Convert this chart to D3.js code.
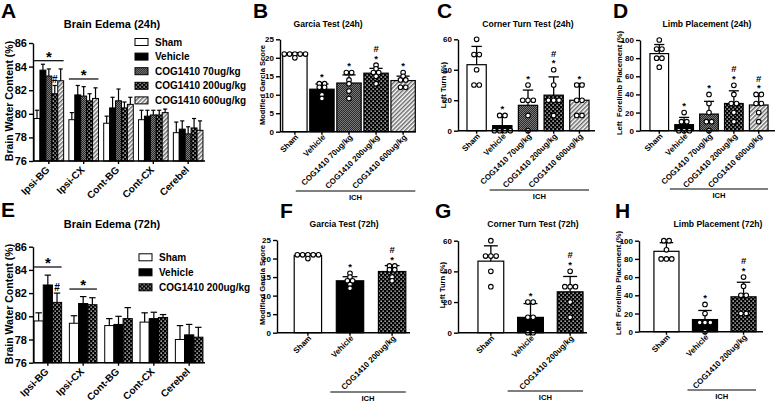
<!DOCTYPE html>
<html>
<head>
<meta charset="utf-8">
<script src="https://cdn.jsdelivr.net/npm/d3@7"></script>
<style>
  body { margin: 0; background: #fff; }
  svg { display: block; background: #fff; }
</style>
</head>
<body>
<svg width="778" height="402"></svg>
<script>
/*global d3*/

// brain regions and treatment groups
let regions = ['Ipsi-BG', 'Ipsi-CX', 'Cont-BG', 'Cont-CX', 'Cerebel'];
let groups24 = ['Sham', 'Vehicle', 'COG1410 70ug/kg', 'COG1410 200ug/kg', 'COG1410 600ug/kg'];
let groups72 = ['Sham', 'Vehicle', 'COG1410 200ug/kg'];

// A: brain water content (%) at 24h, one row per region
let edema24 = [
    [79.6, 83.7, 83.2, 81.7, 82.8],
    [79.5, 81.6, 81.5, 81.1, 81.3],
    [79.2, 80.5, 81.1, 80.5, 80.8],
    [79.5, 79.8, 79.9, 79.9, 80.1],
    [78.4, 78.7, 78.3, 78.8, 78.6]
];
let edema24Sd = [
    [0.7, 0.5, 0.6, 0.7, 1.0],
    [0.6, 0.8, 0.8, 0.6, 0.9],
    [0.6, 0.9, 1.0, 0.5, 0.6],
    [0.8, 0.5, 0.4, 0.4, 0.3],
    [0.9, 0.7, 0.6, 0.8, 0.8]
];
// significance bars (level in %) and # marks
let edema24Star = [['Ipsi-BG', 84.5], ['Ipsi-CX', 82.95]];
let edema24Hash = [['Ipsi-BG', 'COG1410 200ug/kg']];

// E: brain water content (%) at 72h
let edema72 = [
    [79.6, 82.7, 81.2],
    [79.4, 81.1, 81.0],
    [79.2, 79.3, 79.8],
    [79.5, 79.8, 79.9],
    [78.0, 78.4, 78.2]
];
let edema72Sd = [
    [0.7, 0.85, 0.8],
    [0.65, 0.6, 0.6],
    [0.6, 0.7, 0.95],
    [0.8, 0.55, 0.25],
    [1.2, 0.9, 0.85]
];
let edema72Star = [['Ipsi-BG', 84.25], ['Ipsi-CX', 82.35]];
let edema72Hash = [['Ipsi-BG', 'COG1410 200ug/kg']];

// B: Garcia score 24h, individual animals
let garcia24 = [
    [21, 21, 21, 21, 20, 21],
    [13, 13, 12, 12, 10, 9],
    [16, 16, 14, 13, 11, 9],
    [18, 17, 16, 16, 15, 13],
    [16, 15, 14, 14, 12, 12]
];
let garcia24Sd = [0.5, 1.4, 2.2, 1.3, 1.2];
let garcia24Marks = ['', '*', '*', '*#', '*'];

// C: corner turn 24h (% left turns)
let corner24 = [
    [60, 50, 50, 40, 30, 30],
    [10, 10, 0, 0, 0, 0],
    [30, 20, 20, 20, 10, 0],
    [40, 30, 20, 20, 20, 10],
    [30, 30, 20, 20, 10, 10]
];
let corner24Sd = [12, 7, 10, 12, 11];
let corner24Marks = ['', '*', '*', '*#', '*'];

// D: limb placement 24h (%)
let limb24 = [
    [100, 90, 90, 80, 80, 70],
    [20, 10, 10, 0, 0, 0],
    [40, 30, 20, 10, 10, 0],
    [50, 40, 30, 30, 20, 10],
    [40, 40, 30, 30, 20, 10]
];
let limb24Sd = [10, 8, 14, 14, 12];
let limb24Marks = ['', '*', '*', '*#', '*#'];

// F: Garcia score 72h
let garcia72 = [
    [21, 21, 21, 21, 21, 20],
    [16, 15, 14, 14, 13, 12],
    [18, 18, 17, 17, 15, 14]
];
let garcia72Sd = [0.4, 1.1, 1.6];
let garcia72Marks = ['', '*', '*#'];

// G: corner turn 72h
let corner72 = [
    [60, 50, 50, 50, 40, 30],
    [20, 20, 10, 10, 0, 0],
    [40, 30, 30, 30, 20, 10]
];
let corner72Sd = [10, 9, 10];
let corner72Marks = ['', '*', '*#'];

// H: limb placement 72h
let limb72 = [
    [100, 100, 90, 80, 80, 80],
    [30, 20, 10, 10, 10, 0],
    [60, 50, 40, 40, 20, 20]
];
let limb72Sd = [9.5, 10, 16];
let limb72Marks = ['', '*', '*#'];

let font = '"Liberation Sans", Arial, Helvetica, sans-serif';
let svg = d3.select('svg')
    .attr('font-family', font)
    .attr('font-weight', 'bold');

// fill patterns for the treatment groups
let defs = svg.append('defs');

let p70 = defs.append('pattern').attr('id', 'p70')
    .attr('width', 2).attr('height', 2).attr('patternUnits', 'userSpaceOnUse');
p70.append('rect').attr('width', 2).attr('height', 2).attr('fill', '#2a2a2a');
p70.append('rect').attr('width', 1).attr('height', 1).attr('fill', '#7a7a7a');
p70.append('rect').attr('x', 1).attr('y', 1).attr('width', 1).attr('height', 1).attr('fill', '#7a7a7a');

let p200 = defs.append('pattern').attr('id', 'p200')
    .attr('width', 4).attr('height', 4).attr('patternUnits', 'userSpaceOnUse');
p200.append('rect').attr('width', 4).attr('height', 4).attr('fill', '#000');
p200.append('rect').attr('x', 0.5).attr('y', 0.5).attr('width', 1.3).attr('height', 1.3).attr('fill', '#fff');
p200.append('rect').attr('x', 2.5).attr('y', 2.5).attr('width', 1.3).attr('height', 1.3).attr('fill', '#ddd');

let p600 = defs.append('pattern').attr('id', 'p600')
    .attr('width', 3).attr('height', 3).attr('patternUnits', 'userSpaceOnUse')
    .attr('patternTransform', 'rotate(45)');
p600.append('rect').attr('width', 3).attr('height', 3).attr('fill', '#fff');
p600.append('rect').attr('width', 1.5).attr('height', 3).attr('fill', '#6a6a6a');

let fills = {
    'Sham': '#fff',
    'Vehicle': '#000',
    'COG1410 70ug/kg': 'url(#p70)',
    'COG1410 200ug/kg': 'url(#p200)',
    'COG1410 600ug/kg': 'url(#p600)'
};

function styleAxis(sel, size) {
    sel.attr('font-family', font).attr('font-size', size).attr('font-weight', 'bold');
    sel.selectAll('path, line').attr('stroke', '#000').attr('stroke-width', 1.4);
    sel.selectAll('text').attr('fill', '#000');
}

function heading(p, letterSize, titleSize) {
    svg.append('text')
        .attr('x', p.lx).attr('y', p.ly)
        .attr('font-size', letterSize)
        .text(p.letter);
    svg.append('text')
        .attr('x', p.tx).attr('y', p.ty)
        .attr('font-size', titleSize)
        .attr('text-anchor', 'middle')
        .text(p.title);
    svg.append('text')
        .attr('transform', 'translate(' + p.ylx + ',' + p.yly + ') rotate(-90)')
        .attr('font-size', p.ylSize)
        .attr('text-anchor', 'middle')
        .style('white-space', 'pre')
        .text(p.ylabel);
}

// grouped bar chart for brain edema panels
function edemaPanel(p) {
    heading(p, 21, 11);
    let y = d3.scaleLinear().domain([76, 86]).range([p.y0, p.y1]);
    let x0 = d3.scaleBand().domain(regions).range(p.xRange)
        .paddingInner(p.pi).paddingOuter(p.po);
    let x1 = d3.scaleBand().domain(p.groups).range([0, x0.bandwidth()]);
    let g = svg.append('g');

    let cells = [];
    p.means.forEach((row, i) => row.forEach((m, j) => {
        cells.push({ region: regions[i], group: p.groups[j], mean: m, sd: p.sd[i][j] });
    }));

    g.selectAll('rect.bar').data(cells).enter().append('rect')
        .attr('class', 'bar')
        .attr('x', d => x0(d.region) + x1(d.group))
        .attr('y', d => y(d.mean))
        .attr('width', x1.bandwidth())
        .attr('height', d => p.y0 - y(d.mean))
        .attr('fill', d => fills[d.group])
        .attr('stroke', '#000').attr('stroke-width', 1);

    let cap = x1.bandwidth() * 0.35;
    let eb = g.selectAll('g.err').data(cells).enter().append('g')
        .attr('transform', d => 'translate(' + (x0(d.region) + x1(d.group) + x1.bandwidth() / 2) + ',0)');
    eb.append('line').attr('y1', d => y(d.mean)).attr('y2', d => y(d.mean + d.sd))
        .attr('stroke', '#000').attr('stroke-width', 1.2);
    eb.append('line').attr('x1', -cap).attr('x2', cap)
        .attr('y1', d => y(d.mean + d.sd)).attr('y2', d => y(d.mean + d.sd))
        .attr('stroke', '#000').attr('stroke-width', 1.2);

    // y axis
    g.append('g').attr('transform', 'translate(' + p.ax + ',0)')
        .call(d3.axisLeft(y).tickValues([76, 78, 80, 82, 84, 86]).tickSize(4).tickSizeOuter(0).tickPadding(2))
        .call(s => styleAxis(s, 11));

    // x axis
    let xa = g.append('g').attr('transform', 'translate(0,' + p.y0 + ')')
        .call(d3.axisBottom(x0).tickSize(3).tickSizeOuter(0))
        .call(s => styleAxis(s, 10));
    xa.select('.domain').attr('d', 'M' + p.ax + ',0H' + p.xEnd);
    xa.selectAll('text')
        .attr('x', 0).attr('y', 0).attr('dy', '0.35em')
        .attr('transform', 'translate(-1,7) rotate(-45)')
        .style('text-anchor', 'end');

    // significance
    p.star.forEach(s => {
        let lx = x0(s[0]), ly = y(s[1]);
        g.append('line').attr('x1', lx).attr('x2', lx + x0.bandwidth())
            .attr('y1', ly).attr('y2', ly).attr('stroke', '#000').attr('stroke-width', 1.2);
        g.append('text').attr('x', lx + x0.bandwidth() / 2).attr('y', ly + 1)
            .attr('font-size', 15).attr('text-anchor', 'middle').text('*');
    });
    p.hash.forEach(s => {
        let i = regions.indexOf(s[0]), j = p.groups.indexOf(s[1]);
        let top = y(p.means[i][j] + p.sd[i][j]);
        g.append('text').attr('x', x0(s[0]) + x1(s[1]) + x1.bandwidth() / 2).attr('y', top - 2)
            .attr('font-size', 10).attr('text-anchor', 'middle').text('#');
    });

    // legend
    let lg = g.selectAll('g.leg').data(p.groups).enter().append('g')
        .attr('transform', (d, i) => 'translate(' + p.legX + ',' + (p.legY + i * p.legStep) + ')');
    lg.append('rect').attr('x', 0).attr('y', -3.5).attr('width', 13).attr('height', 7)
        .attr('fill', d => fills[d]).attr('stroke', '#000').attr('stroke-width', 1);
    lg.append('text').attr('x', 20).attr('y', 0).attr('dy', '0.36em')
        .attr('font-size', 10).text(d => d);
}

// spread dots sharing a value side by side
function spread(vals, gap) {
    let counts = d3.rollup(vals, v => v.length, d => d);
    let seen = new Map();
    return vals.map(v => {
        let n = counts.get(v), k = seen.get(v) || 0;
        seen.set(v, k + 1);
        return { v: v, dx: (k - (n - 1) / 2) * gap };
    });
}

// single bar chart with scatter dots
function dotPanel(p) {
    heading(p, 21, 8.6);
    let y = d3.scaleLinear().domain([0, p.yMax]).range([p.y0, p.y1]);
    let x = d3.scaleBand().domain(p.cats).range(p.xRange)
        .paddingInner(p.pi).paddingOuter(p.po);
    let g = svg.append('g');
    let bw = x.bandwidth();

    let rows = p.cats.map((c, i) => ({
        cat: c,
        mean: d3.mean(p.points[i]),
        sd: p.sd[i],
        pts: spread(p.points[i], 5.3),
        marks: p.marks[i]
    }));

    g.selectAll('rect.bar').data(rows).enter().append('rect')
        .attr('x', d => x(d.cat))
        .attr('y', d => y(d.mean))
        .attr('width', bw)
        .attr('height', d => p.y0 - y(d.mean))
        .attr('fill', d => fills[d.cat])
        .attr('stroke', '#000').attr('stroke-width', 1.2);

    let cap = bw * 0.27;
    let eb = g.selectAll('g.err').data(rows).enter().append('g')
        .attr('transform', d => 'translate(' + (x(d.cat) + bw / 2) + ',0)');
    eb.append('line').attr('y1', d => y(d.mean)).attr('y2', d => y(d.mean + d.sd))
        .attr('stroke', '#000').attr('stroke-width', 1.3);
    eb.append('line').attr('x1', -cap).attr('x2', cap)
        .attr('y1', d => y(d.mean + d.sd)).attr('y2', d => y(d.mean + d.sd))
        .attr('stroke', '#000').attr('stroke-width', 1.3);

    // dots
    eb.selectAll('circle').data(d => d.pts).enter().append('circle')
        .attr('cx', d => d.dx)
        .attr('cy', d => y(d.v))
        .attr('r', 2.3)
        .attr('fill', '#fff').attr('stroke', '#000').attr('stroke-width', 1.1);

    // significance marks stacked above the highest element: * then # on top
    eb.each(function (d) {
        let top = Math.min(y(d.mean + d.sd), y(d3.max(d.pts, q => q.v)) - 2.4);
        d3.select(this).selectAll('text.mark').data(d.marks.split('')).enter().append('text')
            .attr('y', (m, i) => top - 1 - i * 9.5)
            .attr('font-size', 9.5)
            .attr('text-anchor', 'middle')
            .text(m => m);
    });

    // y axis
    g.append('g').attr('transform', 'translate(' + p.ax + ',0)')
        .call(d3.axisLeft(y).tickValues(p.ticks).tickSize(4).tickSizeOuter(0).tickPadding(2))
        .call(s => styleAxis(s, 8));

    // x axis
    let xa = g.append('g').attr('transform', 'translate(0,' + p.y0 + ')')
        .call(d3.axisBottom(x).tickSize(3).tickSizeOuter(0))
        .call(s => styleAxis(s, 8));
    xa.select('.domain').attr('d', 'M' + p.ax + ',0H' + p.xEnd);
    xa.selectAll('text')
        .attr('x', 0).attr('y', 0).attr('dy', '0.35em')
        .attr('transform', 'translate(2,4) rotate(-45)')
        .style('text-anchor', 'end');

    // ICH bracket under the injured groups
    let ix1 = x(p.cats[1]) - p.ichPad, ix2 = x(p.cats[p.cats.length - 1]) + bw;
    g.append('line').attr('x1', ix1).attr('x2', ix2).attr('y1', p.ichY).attr('y2', p.ichY)
        .attr('stroke', '#000').attr('stroke-width', 1.2);
    g.append('text').attr('x', (ix1 + ix2) / 2).attr('y', p.ichY + 8.5)
        .attr('font-size', 7.6).attr('text-anchor', 'middle').text('ICH');
}

edemaPanel({
    letter: 'A', lx: 1, ly: 18, title: 'Brain Edema (24h)', tx: 112, ty: 28,
    ylabel: 'Brain Water Content (%)', ylx: 13, yly: 101, ylSize: 10.5,
    groups: groups24, means: edema24, sd: edema24Sd, star: edema24Star, hash: edema24Hash,
    ax: 33, y0: 161, y1: 43, xRange: [33, 204], pi: 0.15, po: 0.03, xEnd: 205,
    legX: 135, legY: 42, legStep: 14.6
});

edemaPanel({
    letter: 'E', lx: 1, ly: 217, title: 'Brain Edema (72h)', tx: 112, ty: 228,
    ylabel: 'Brain Water Content (%)', ylx: 13, yly: 304, ylSize: 10.5,
    groups: groups72, means: edema72, sd: edema72Sd, star: edema72Star, hash: edema72Hash,
    ax: 33, y0: 362.7, y1: 246.7, xRange: [33, 204], pi: 0.22, po: 0.03, xEnd: 205,
    legX: 139, legY: 257.3, legStep: 15
});

dotPanel({
    letter: 'B', lx: 253, ly: 18, title: 'Garcia Test (24h)', tx: 328, ty: 27,
    ylabel: 'Modified Garcia Score', ylx: 265, yly: 85, ylSize: 7.6,
    cats: groups24, points: garcia24, sd: garcia24Sd, marks: garcia24Marks,
    ax: 280, y0: 131.7, y1: 39.3, yMax: 25, ticks: [0, 5, 10, 15, 20, 25],
    xRange: [280, 418], pi: 0.1, po: 0.1, xEnd: 416, ichPad: 14, ichY: 191
});

dotPanel({
    letter: 'C', lx: 437, ly: 18, title: 'Corner Turn Test (24h)', tx: 528, ty: 27,
    ylabel: 'Left Turn (%)', ylx: 446, yly: 85, ylSize: 7.6,
    cats: groups24, points: corner24, sd: corner24Sd, marks: corner24Marks,
    ax: 458, y0: 130.7, y1: 39.3, yMax: 60, ticks: [0, 20, 40, 60],
    xRange: [458, 598], pi: 0.25, po: 0.35, xEnd: 595, ichPad: 3, ichY: 190
});

dotPanel({
    letter: 'D', lx: 613, ly: 18, title: 'Limb Placement (24h)', tx: 707, ty: 27,
    ylabel: 'Left  Forelimb Placement (%)', ylx: 622, yly: 83, ylSize: 7.6,
    cats: groups24, points: limb24, sd: limb24Sd, marks: limb24Marks,
    ax: 640, y0: 130.7, y1: 40, yMax: 100, ticks: [0, 20, 40, 60, 80, 100],
    xRange: [640, 778], pi: 0.25, po: 0.4, xEnd: 775, ichPad: 5, ichY: 189
});

dotPanel({
    letter: 'F', lx: 280, ly: 218, title: 'Garcia Test (72h)', tx: 344, ty: 227,
    ylabel: 'Modified Garcia Score', ylx: 265, yly: 285, ylSize: 7.6,
    cats: groups72, points: garcia72, sd: garcia72Sd, marks: garcia72Marks,
    ax: 277, y0: 332.7, y1: 240, yMax: 25, ticks: [0, 5, 10, 15, 20, 25],
    xRange: [290, 410], pi: 0.35, po: 0.1, xEnd: 410, ichPad: 6, ichY: 392
});

dotPanel({
    letter: 'G', lx: 435, ly: 218, title: 'Corner Turn Test (72h)', tx: 533, ty: 227,
    ylabel: 'Left Turn (%)', ylx: 445, yly: 285, ylSize: 7.6,
    cats: groups72, points: corner72, sd: corner72Sd, marks: corner72Marks,
    ax: 458, y0: 332.7, y1: 240.7, yMax: 60, ticks: [0, 20, 40, 60],
    xRange: [474, 587], pi: 0.35, po: 0.1, xEnd: 587, ichPad: 10, ichY: 391
});

dotPanel({
    letter: 'H', lx: 615, ly: 218, title: 'Limb Placement (72h)', tx: 718, ty: 227,
    ylabel: 'Left  Forelimb Placement (%)', ylx: 621, yly: 283, ylSize: 7.6,
    cats: groups72, points: limb72, sd: limb72Sd, marks: limb72Marks,
    ax: 639, y0: 331.7, y1: 240.7, yMax: 100, ticks: [0, 20, 40, 60, 80, 100],
    xRange: [652, 758], pi: 0.35, po: 0.05, xEnd: 763, ichPad: 5, ichY: 390
});
</script>
</body>
</html>
